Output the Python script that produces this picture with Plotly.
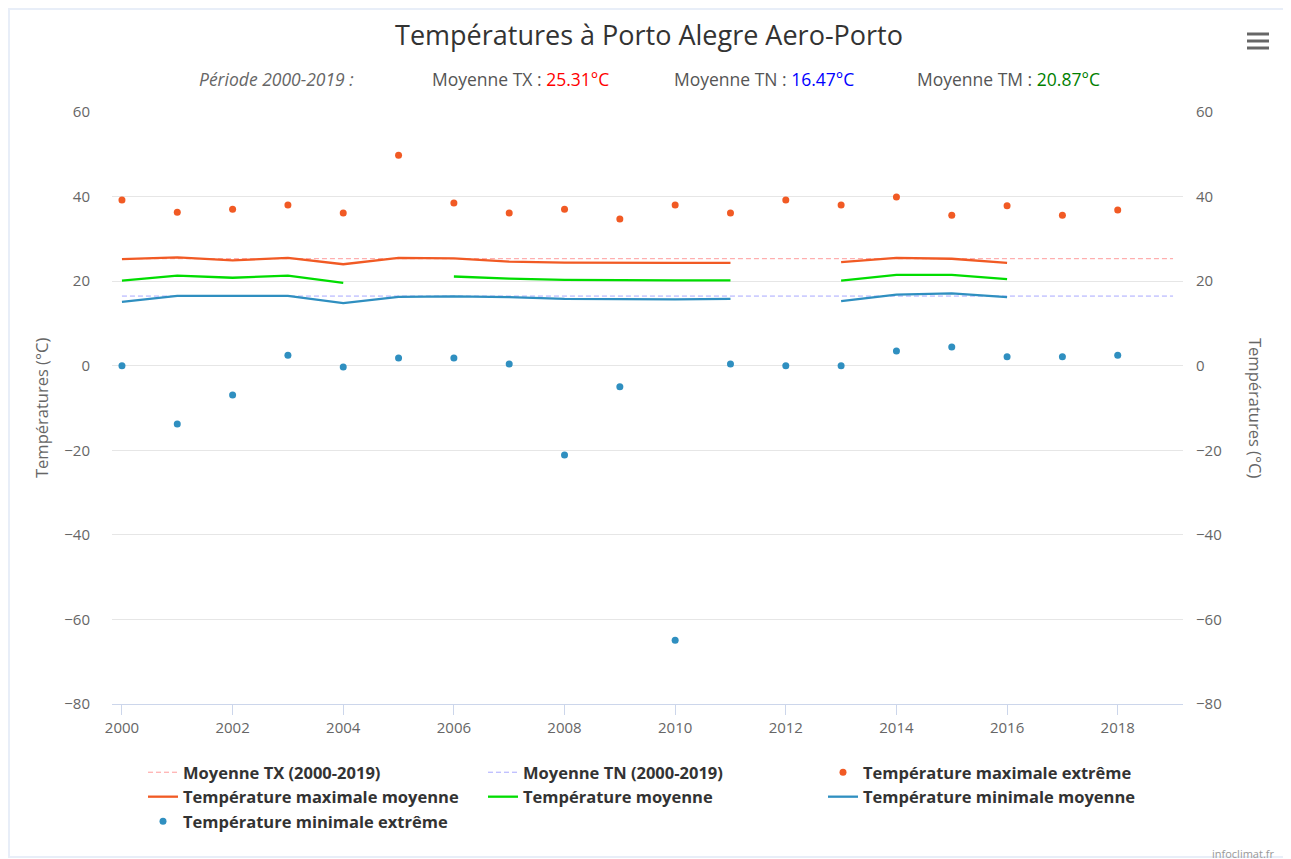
import plotly.graph_objects as go

years = list(range(2000, 2019))
tx_ext = [39.2, 36.3, 37.0, 38.0, 36.1, 49.8, 38.5, 36.1, 37.0, 34.7, 38.0, 36.1, 39.2, 38.0, 39.9, 35.6, 37.8, 35.6, 36.8]
tn_ext = [0.0, -13.8, -6.9, 2.5, -0.3, 1.8, 1.8, 0.4, -21.1, -5.0, -64.9, 0.4, 0.0, 0.0, 3.5, 4.4, 2.1, 2.1, 2.5]
tx_mean = [25.2, 25.6, 24.9, 25.5, 24.0, 25.5, 25.4, 24.6, 24.4, 24.3, 24.3, 24.3, None, 24.5, 25.5, 25.3, 24.3, None, None]
tm_mean = [20.1, 21.3, 20.8, 21.3, 19.6, None, 21.1, 20.6, 20.3, 20.2, 20.2, 20.2, None, 20.1, 21.5, 21.5, 20.5, None, None]
tn_mean = [15.1, 16.5, 16.5, 16.5, 14.8, 16.3, 16.4, 16.2, 15.8, 15.7, 15.7, 15.8, None, 15.3, 16.8, 17.1, 16.2, None, None]
period = [2000, 2019]
avg_tx = 25.31
avg_tn = 16.47
avg_tm = 20.87

FONT = "Open Sans"
ORANGE = "#f15a24"
GREEN = "#00dd00"
BLUE = "#2f8fc0"

fig = go.Figure()
fig.add_trace(go.Scatter(x=period, y=[avg_tx, avg_tx], mode="lines", name="Moyenne TX (2000-2019)",
                         line=dict(color="#ff9c9c", width=1, dash="5px,3px")))
fig.add_trace(go.Scatter(x=period, y=[avg_tn, avg_tn], mode="lines", name="Moyenne TN (2000-2019)",
                         line=dict(color="#a9a9ff", width=1, dash="5px,3px")))
fig.add_trace(go.Scatter(x=years, y=tx_ext, mode="markers", name="Température maximale extrême",
                         marker=dict(color=ORANGE, size=7)))
fig.add_trace(go.Scatter(x=years, y=tx_mean, mode="lines", name="Température maximale moyenne",
                         line=dict(color=ORANGE, width=2.3), connectgaps=False))
fig.add_trace(go.Scatter(x=years, y=tm_mean, mode="lines", name="Température moyenne",
                         line=dict(color=GREEN, width=2.3), connectgaps=False))
fig.add_trace(go.Scatter(x=years, y=tn_mean, mode="lines", name="Température minimale moyenne",
                         line=dict(color=BLUE, width=2.3), connectgaps=False))
fig.add_trace(go.Scatter(x=years, y=tn_ext, mode="markers", name="Température minimale extrême",
                         marker=dict(color=BLUE, size=7)))
# invisible trace to activate right axis
fig.add_trace(go.Scatter(x=[2000], y=[0], yaxis="y2", mode="markers", marker=dict(opacity=0),
                         showlegend=False, hoverinfo="skip"))

W, H = 1291, 859
OFF = 8  # page body margin
# plot area in page pixels: x 112..1183, y 112..704
L = 112 - OFF
T = 112 - OFF
pw = 1183 - 112
ph = 704 - 112
R = W - L - pw
B = H - T - ph

def px(x):
    return (x - OFF - L) / pw

def py(y):
    return (T + ph - (y - OFF)) / ph

fig.update_layout(
    width=W, height=H,
    margin=dict(l=L, r=R, t=T, b=B, autoexpand=False),
    paper_bgcolor="white", plot_bgcolor="white",
    font=dict(family=FONT, color="#666666", size=15),
    title=dict(text="Températures à Porto Alegre Aero-Porto", x=(649 - OFF) / W, xanchor="center",
               xref="container", yref="container",
               y=1 - (36 - OFF) / H, yanchor="middle", font=dict(size=27, color="#333333", family=FONT)),
    xaxis=dict(range=[1999.82, 2019.18], tickmode="array", tickvals=list(range(2000, 2019, 2)),
               showgrid=False, zeroline=False, showline=True, linecolor="#ccd6eb", linewidth=1,
               ticks="outside", ticklen=10, tickcolor="#ccd6eb", tickfont=dict(size=15, color="#666666")),
    yaxis=dict(range=[-80, 60], tickvals=list(range(-80, 61, 20)), showgrid=True, gridcolor="#e6e6e6",
               zeroline=False, showline=False, tickfont=dict(size=15, color="#666666"), ticklabelstandoff=21),
    yaxis2=dict(range=[-80, 60], tickvals=list(range(-80, 61, 20)), overlaying="y", side="right",
                showgrid=False, zeroline=False, showline=False, tickfont=dict(size=15, color="#666666"),
                ticklabelstandoff=12),
    legend=dict(orientation="h", x=px(143), y=py(755), xanchor="left", yanchor="top",
                entrywidth=295, entrywidthmode="pixels", itemwidth=30,
                font=dict(size=16.5, color="#333333", family=FONT, weight="bold"),
                tracegroupgap=0),
    showlegend=True,
)

annos = []
annos.append(dict(text="Températures (°C)", x=px(41), y=0.5, xref="paper", yref="paper", textangle=-90,
                  xanchor="center", yanchor="middle",
                  showarrow=False, font=dict(size=16.5, color="#666666", family=FONT)))
annos.append(dict(text="Températures (°C)", x=px(1256), y=0.5, xref="paper", yref="paper", textangle=90,
                  xanchor="center", yanchor="middle",
                  showarrow=False, font=dict(size=16.5, color="#666666", family=FONT)))
sub_y = py(79)
SUB = 17.5
annos.append(dict(text="<i>Période 2000-2019 :</i>", x=px(197), y=sub_y, xref="paper", yref="paper",
                  xanchor="left", yanchor="middle", showarrow=False, font=dict(size=SUB, color="#666666")))
annos.append(dict(text=f"Moyenne TX : <span style='color:#ff0000'>{avg_tx:.2f}°C</span>", x=px(430), y=sub_y,
                  xref="paper", yref="paper", xanchor="left", yanchor="middle", showarrow=False,
                  font=dict(size=SUB, color="#555555")))
annos.append(dict(text=f"Moyenne TN : <span style='color:#0000ff'>{avg_tn:.2f}°C</span>", x=px(672), y=sub_y,
                  xref="paper", yref="paper", xanchor="left", yanchor="middle", showarrow=False,
                  font=dict(size=SUB, color="#555555")))
annos.append(dict(text=f"Moyenne TM : <span style='color:#008000'>{avg_tm:.2f}°C</span>", x=px(915), y=sub_y,
                  xref="paper", yref="paper", xanchor="left", yanchor="middle", showarrow=False,
                  font=dict(size=SUB, color="#555555")))
annos.append(dict(text="infoclimat.fr", x=px(1276), y=py(853), xref="paper", yref="paper",
                  xanchor="right", yanchor="middle", showarrow=False, font=dict(size=11, color="#999999")))
fig.update_layout(annotations=annos)

shapes = []
# outer frame
shapes.append(dict(type="rect", xref="paper", yref="paper", x0=px(9), x1=px(1284), y0=py(857), y1=py(9),
                   line=dict(color="#e8eef8", width=2), layer="below"))
# menu icon
for yy in (34, 41, 48):
    shapes.append(dict(type="rect", xref="paper", yref="paper", x0=px(1247), x1=px(1269),
                       y0=py(yy + 1.5), y1=py(yy - 1.5), line=dict(width=0), fillcolor="#666666"))
fig.update_layout(shapes=shapes)

fig.write_html("out.html")
